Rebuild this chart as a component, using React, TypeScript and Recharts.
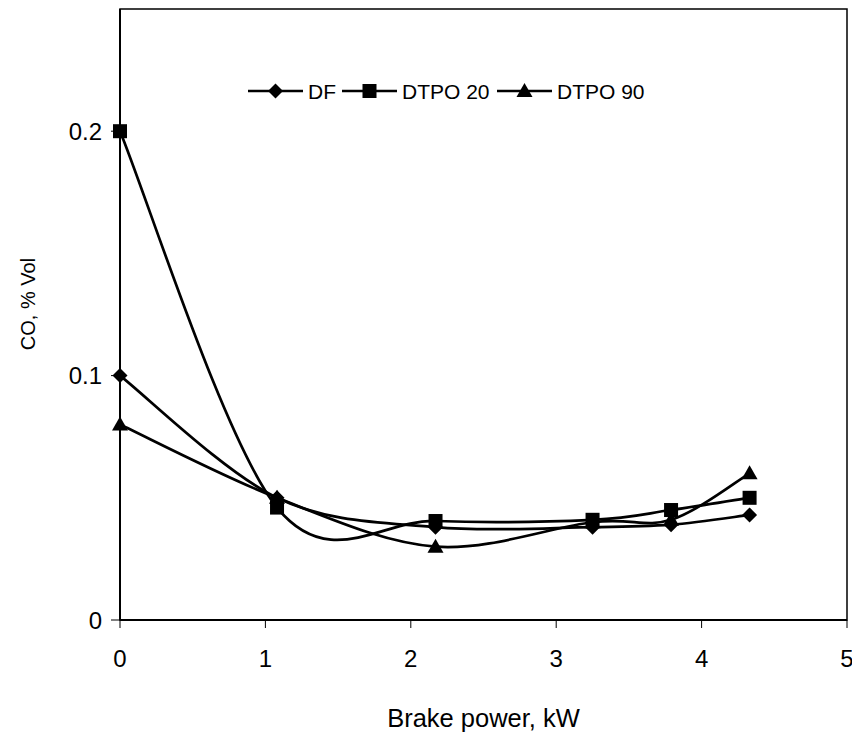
import React from 'react'
import {
  LineChart,
  Line,
  XAxis,
  YAxis,
  ReferenceArea,
} from 'recharts'

// brake power (kW) at each load step
const power = [0, 1.08, 2.17, 3.25, 3.79, 4.33]
const coDF = [0.1, 0.05, 0.038, 0.038, 0.039, 0.043]
const coDTPO20 = [0.2, 0.046, 0.0405, 0.041, 0.045, 0.05]
const coDTPO90 = [0.08, 0.05, 0.03, 0.04, 0.041, 0.06]

const xTicks = [0, 1, 2, 3, 4, 5]
const yTicks = [0, 0.1, 0.2]

const FONT = '"Liberation Sans", Arial, sans-serif'

const chartData = power.map((p, i) => ({
  power: p,
  df: coDF[i],
  dtpo20: coDTPO20[i],
  dtpo90: coDTPO90[i],
}))

// Excel-like smoothed line (catmull-rom style bezier, tension 1/6)
function excelSmooth(context: any) {
  let pts: [number, number][] = []
  return {
    areaStart() {},
    areaEnd() {},
    lineStart() {
      pts = []
    },
    point(x: number, y: number) {
      pts.push([+x, +y])
    },
    lineEnd() {
      const n = pts.length
      if (!n) return
      context.moveTo(pts[0][0], pts[0][1])
      for (let i = 0; i < n - 1; i++) {
        const p0 = pts[Math.max(i - 1, 0)]
        const p1 = pts[i]
        const p2 = pts[i + 1]
        const p3 = pts[Math.min(i + 2, n - 1)]
        context.bezierCurveTo(
          p1[0] + (p2[0] - p0[0]) / 6,
          p1[1] + (p2[1] - p0[1]) / 6,
          p2[0] - (p3[0] - p1[0]) / 6,
          p2[1] - (p3[1] - p1[1]) / 6,
          p2[0],
          p2[1]
        )
      }
    },
  }
}

function Diamond({ cx, cy }: { cx: number; cy: number }) {
  const r = 7.5
  return (
    <polygon
      points={`${cx},${cy - r} ${cx + r},${cy} ${cx},${cy + r} ${cx - r},${cy}`}
      fill="#000"
    />
  )
}

function Square({ cx, cy }: { cx: number; cy: number }) {
  return <rect x={cx - 7} y={cy - 7} width={14} height={14} fill="#000" />
}

function Triangle({ cx, cy }: { cx: number; cy: number }) {
  return (
    <polygon
      points={`${cx},${cy - 8} ${cx + 8},${cy + 6} ${cx - 8},${cy + 6}`}
      fill="#000"
    />
  )
}

const legendItems = [
  { name: 'DF', x: 0, Marker: Diamond },
  { name: 'DTPO 20', x: 94, Marker: Square },
  { name: 'DTPO 90', x: 249, Marker: Triangle },
]

function ChartLegend() {
  return (
    <svg
      width={410}
      height={24}
      style={{ position: 'absolute', top: 71, left: 240, display: 'block' }}
    >
      {legendItems.map(({ name, x, Marker }) => (
        <g key={name}>
          <line x1={x} y1={12} x2={x + 55} y2={12} stroke="#000" strokeWidth={2.5} />
          <Marker cx={x + 27.5} cy={12} />
          <text x={x + 60} y={19.5} fontSize={21} fontFamily={FONT} fill="#000">
            {name}
          </text>
        </g>
      ))}
    </svg>
  )
}

function YTitle() {
  const cx = 27
  const cy = 296
  return (
    <text
      x={cx}
      y={cy}
      transform={`rotate(-90, ${cx}, ${cy})`}
      textAnchor="middle"
      fontSize={20}
      fontFamily={FONT}
      fill="#000"
    >
      CO, % Vol
    </text>
  )
}

function XTitle({ viewBox }: any) {
  const cx = viewBox.x + viewBox.width / 2
  return (
    <text x={cx} y={719} textAnchor="middle" fontSize={25.5} fontFamily={FONT} fill="#000">
      Brake power, kW
    </text>
  )
}

const tickStyle = { fill: '#000', fontSize: 24, fontFamily: FONT }

export default function App() {
  return (
    <div style={{ position: 'relative', width: 852, height: 731, background: '#fff' }}>
      <LineChart
        width={852}
        height={731}
        data={chartData}
        margin={{ top: 1, right: 13, left: 0, bottom: 0 }}
        style={{ fontFamily: FONT }}
      >
        <ReferenceArea
          x1={0}
          x2={5}
          y1={0}
          y2={0.25}
          fill="none"
          stroke="#000"
          strokeWidth={1.5}
          ifOverflow="visible"
        />
        <XAxis
          dataKey="power"
          type="number"
          domain={[0, 5]}
          ticks={xTicks}
          height={119}
          tick={tickStyle}
          tickSize={8}
          tickMargin={22}
          axisLine={{ stroke: '#000', strokeWidth: 2 }}
          tickLine={{ stroke: '#000', strokeWidth: 1 }}
          label={<XTitle />}
        />
        <YAxis
          type="number"
          domain={[0, 0.25]}
          ticks={yTicks}
          width={112}
          tick={tickStyle}
          tickSize={9}
          tickMargin={9}
          axisLine={{ stroke: '#000', strokeWidth: 2 }}
          tickLine={{ stroke: '#000', strokeWidth: 1 }}
          label={<YTitle />}
        />
        <Line
          dataKey="df"
          type={excelSmooth as any}
          stroke="#000"
          strokeWidth={2.7}
          dot={(p: any) => <Diamond key={`df-${p.index}`} cx={p.cx} cy={p.cy} />}
          isAnimationActive={false}
        />
        <Line
          dataKey="dtpo20"
          type={excelSmooth as any}
          stroke="#000"
          strokeWidth={2.7}
          dot={(p: any) => <Square key={`d20-${p.index}`} cx={p.cx} cy={p.cy} />}
          isAnimationActive={false}
        />
        <Line
          dataKey="dtpo90"
          type={excelSmooth as any}
          stroke="#000"
          strokeWidth={2.7}
          dot={(p: any) => <Triangle key={`d90-${p.index}`} cx={p.cx} cy={p.cy} />}
          isAnimationActive={false}
        />
      </LineChart>
      <ChartLegend />
    </div>
  )
}
